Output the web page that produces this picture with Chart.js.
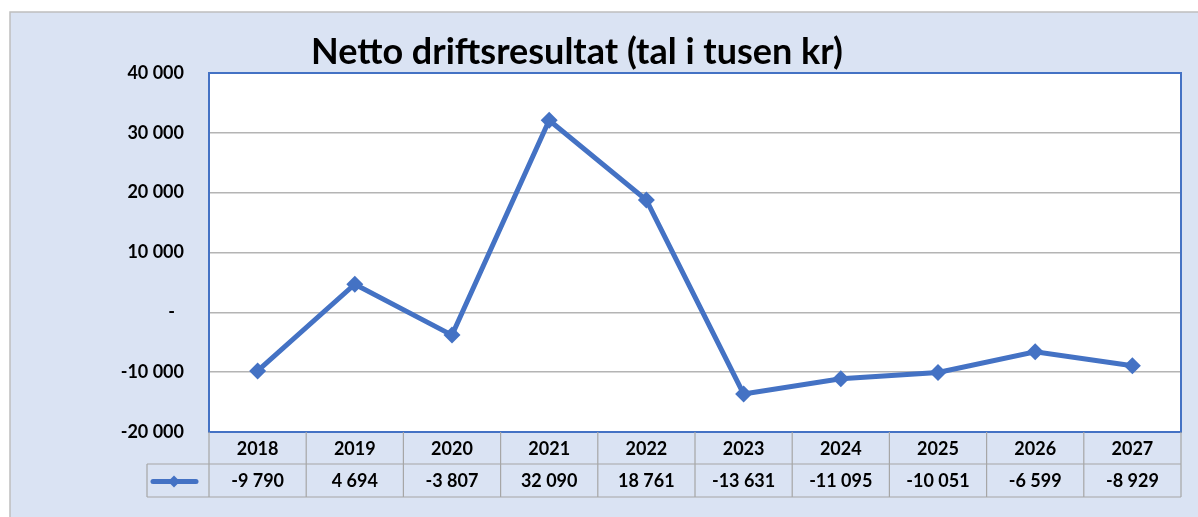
<!DOCTYPE html>
<html>
<head>
<meta charset="utf-8">
<script src="https://cdn.jsdelivr.net/npm/chart.js@4.4.0/dist/chart.umd.min.js"></script>
<style>
  html, body { margin: 0; padding: 0; background: #fff; }
  #wrap { width: 1198px; height: 517px; position: relative; }
</style>
</head>
<body>
<div id="wrap"><canvas id="myChart" width="1198" height="517"></canvas></div>
<script>
// data
var years = ["2018", "2019", "2020", "2021", "2022", "2023", "2024", "2025", "2026", "2027"];
var netto = [-9790, 4694, -3807, 32090, 18761, -13631, -11095, -10051, -6599, -8929];
var yTicks = [-20000, -10000, 0, 10000, 20000, 30000, 40000];
var title = "Netto driftsresultat (tal i tusen kr)";

var blue = '#4472c4';
var font = 'Lato, "Open Sans", sans-serif';

function fmt(v) {
  if (v === 0) return '-\u2002';
  var s = String(Math.abs(v)).replace(/\B(?=(\d{3})+(?!\d))/g, ' ');
  return (v < 0 ? '-' : '') + s;
}

// background, plot frame, title and data table
var frame = {
  id: 'frame',
  beforeDraw: function (chart) {
    var c = chart.ctx, a = chart.chartArea;
    c.save();
    c.fillStyle = '#ffffff';
    c.fillRect(0, 0, chart.width, chart.height);
    c.fillStyle = '#dae3f3';
    c.fillRect(10, 12, chart.width - 10, chart.height - 12);
    c.strokeStyle = '#bfbfbf';
    c.lineWidth = 1.5;
    c.beginPath();
    c.moveTo(10, chart.height);
    c.lineTo(10, 12);
    c.lineTo(chart.width, 12);
    c.stroke();
    c.fillStyle = '#ffffff';
    c.fillRect(a.left, a.top, a.right - a.left, a.bottom - a.top);
    c.restore();
  },
  afterDraw: function (chart) {
    var c = chart.ctx, a = chart.chartArea, x = chart.scales.x;
    c.save();
    // plot border
    c.strokeStyle = blue;
    c.lineWidth = 2;
    c.strokeRect(a.left, a.top, a.right - a.left, a.bottom - a.top);

    // title
    c.fillStyle = '#000';
    c.font = 'bold 36px ' + font;
    c.textAlign = 'center';
    c.textBaseline = 'middle';
    c.fillText(title, 577, 52);

    // table grid
    var r1 = a.bottom, r2 = a.bottom + 32, r3 = a.bottom + 65, keyLeft = 147;
    var w = (a.right - a.left) / years.length;
    c.strokeStyle = '#a6a6a6';
    c.lineWidth = 1.2;
    c.beginPath();
    for (var i = 0; i <= years.length; i++) {
      var gx = a.left + i * w;
      c.moveTo(gx, r1); c.lineTo(gx, r3);
    }
    c.moveTo(keyLeft, r2); c.lineTo(a.right, r2);
    c.moveTo(keyLeft, r3); c.lineTo(a.right, r3);
    c.moveTo(keyLeft, r2); c.lineTo(keyLeft, r3);
    c.stroke();

    // values row
    c.fillStyle = '#000';
    c.font = 'bold 18px ' + font;
    var ym = (r2 + r3) / 2 + 1;
    netto.forEach(function (v, k) {
      c.fillText(fmt(v), x.getPixelForValue(k), ym);
    });

    // legend key
    c.strokeStyle = blue;
    c.lineWidth = 5;
    c.lineCap = 'round';
    c.beginPath();
    c.moveTo(153, ym); c.lineTo(196, ym);
    c.stroke();
    c.fillStyle = blue;
    c.beginPath();
    c.moveTo(174, ym - 6); c.lineTo(180, ym); c.lineTo(174, ym + 6); c.lineTo(168, ym);
    c.closePath();
    c.fill();
    c.restore();
  }
};

var ctx = document.getElementById("myChart").getContext('2d');
var myChart = new Chart(ctx, {
  type: 'line',
  data: {
    labels: years,
    datasets: [{
      label: 'Netto driftsresultat',
      data: netto,
      borderColor: blue,
      backgroundColor: blue,
      borderWidth: 5,
      pointStyle: 'rectRot',
      pointRadius: 8.5,
      pointBorderWidth: 0,
      tension: 0,
      fill: false
    }]
  },
  options: {
    responsive: false,
    animation: false,
    layout: { padding: { left: 0, right: 17, top: 73, bottom: 0 } },
    plugins: {
      legend: { display: false },
      tooltip: { enabled: false }
    },
    scales: {
      x: {
        offset: true,
        grid: { display: false, drawTicks: false },
        border: { display: false },
        ticks: { color: '#000', font: { family: font, size: 18, weight: 'bold' }, padding: 6, maxRotation: 0 },
        afterFit: function (s) { s.height = 85; }
      },
      y: {
        min: -20000,
        max: 40000,
        afterBuildTicks: function (s) { s.ticks = yTicks.map(function (v) { return { value: v }; }); },
        grid: { color: '#b4b4b4', lineWidth: 1.5, drawTicks: false },
        border: { display: false },
        ticks: {
          color: '#000',
          font: { family: font, size: 18, weight: 'bold' },
          padding: 25,
          callback: function (v) { return fmt(v); }
        },
        afterFit: function (s) { s.width = 209; }
      }
    }
  },
  plugins: [frame]
});
</script>
</body>
</html>
